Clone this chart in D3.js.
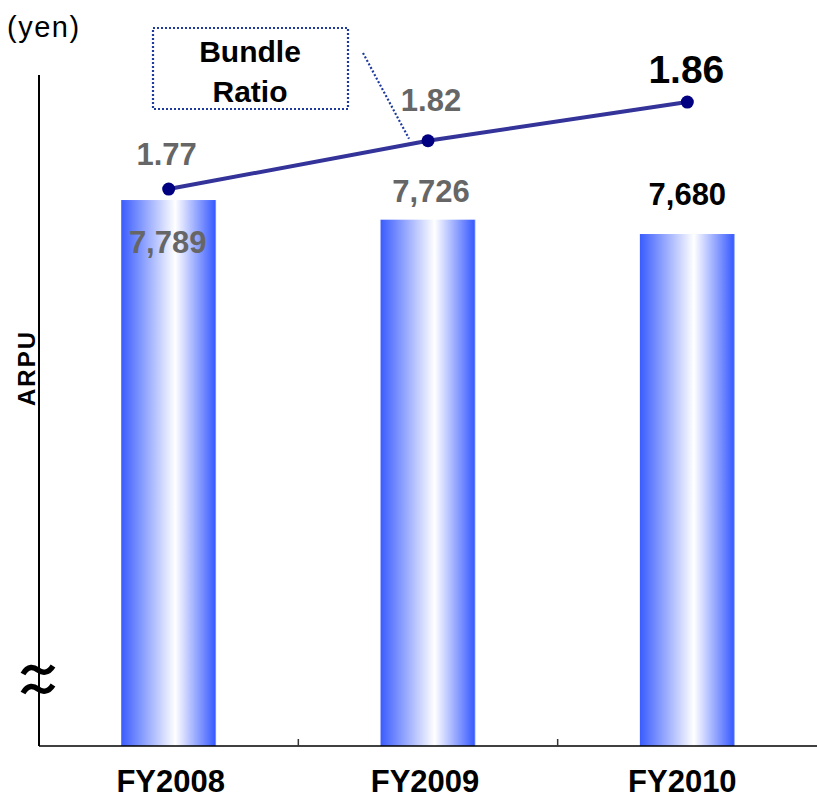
<!DOCTYPE html>
<html>
<head>
<meta charset="utf-8">
<script src="https://cdn.jsdelivr.net/npm/d3@7"></script>
<style>
  html, body { margin: 0; padding: 0; background: #fff; }
  svg { display: block; font-family: "Liberation Sans", Arial, sans-serif; }
</style>
</head>
<body>
<svg id="chart" width="817" height="799"></svg>
<script>
// Fiscal years, ARPU (yen) and bundle ratio
const categories = ["FY2008", "FY2009", "FY2010"];
const arpuValues = [7789, 7726, 7680];
const arpuLabels = ["7,789", "7,726", "7,680"];
const bundleRatio = [1.77, 1.82, 1.86];
const ratioLabels = ["1.77", "1.82", "1.86"];

const svg = d3.select("#chart");
const plotLeft = 39, plotRight = 817, plotBottom = 746, plotTop = 75;

// Category slots span the plot; bars sit in the middle of each slot
const x = d3.scaleBand().domain(categories).range([plotLeft, plotRight]).padding(0);
const barW = x.bandwidth() * 0.366;
const cx = d => x(d) + x.bandwidth() / 2;

// Truncated ARPU axis (broken near the bottom)
const y = d3.scaleLinear().domain([6038, 8190]).range([plotBottom, plotTop]);
// Independent scale for the bundle ratio line
const yR = d3.scaleLinear().domain([1.194, 1.888]).range([plotBottom, plotTop]);

// Bar gradient: blue edges fading to white just right of centre
const defs = svg.append("defs");
const grad = defs.append("linearGradient").attr("id", "barGrad")
  .attr("x1", "0%").attr("x2", "100%").attr("y1", "0%").attr("y2", "0%");
grad.append("stop").attr("offset", "0%").attr("stop-color", "#3a5cff");
grad.append("stop").attr("offset", "57%").attr("stop-color", "#ffffff");
grad.append("stop").attr("offset", "98.5%").attr("stop-color", "#3a5cff");
grad.append("stop").attr("offset", "100%").attr("stop-color", "#9db0ff");

// Bars
svg.append("g").selectAll("rect").data(categories).join("rect")
  .attr("x", d => cx(d) - barW / 2)
  .attr("width", barW)
  .attr("y", (d, i) => y(arpuValues[i]))
  .attr("height", (d, i) => plotBottom - y(arpuValues[i]))
  .attr("fill", "url(#barGrad)");

// Y axis line
svg.append("line").attr("x1", plotLeft).attr("x2", plotLeft).attr("y1", plotTop).attr("y2", plotBottom)
  .attr("stroke", "#000").attr("stroke-width", 2);

// X axis with ticks at slot boundaries
svg.append("line").attr("x1", plotLeft).attr("x2", plotRight).attr("y1", plotBottom).attr("y2", plotBottom)
  .attr("stroke", "#000").attr("stroke-width", 1.6);
svg.append("g").selectAll("line").data(categories.slice(1)).join("line")
  .attr("x1", d => x(d)).attr("x2", d => x(d))
  .attr("y1", plotBottom).attr("y2", plotBottom - 7)
  .attr("stroke", "#333").attr("stroke-width", 1.5);

// Axis break mark: two stacked bold waves across the axis
const wave = yy => `M23,${yy + 4} C28,${yy - 5} 34,${yy - 3} 38,${yy} S48,${yy + 4} 53,${yy - 4}`;
svg.append("g").selectAll("path").data([670, 689]).join("path")
  .attr("d", d => wave(d))
  .attr("fill", "none").attr("stroke", "#000").attr("stroke-width", 5.5);

// Category labels
const catDx = [2, -3, -5];
svg.append("g").selectAll("text").data(categories).join("text")
  .attr("x", (d, i) => cx(d) + catDx[i]).attr("y", 792)
  .attr("text-anchor", "middle").attr("font-weight", "bold").attr("font-size", 31)
  .attr("fill", "#000").text(d => d);

// ARPU value labels
const arpuPos = [
  { dx: -1, dy: 53, color: "#666" },
  { dx: 3, dy: -17.5, color: "#666" },
  { dx: 0, dy: -29, color: "#000" }
];
svg.append("g").selectAll("text").data(categories).join("text")
  .attr("x", (d, i) => cx(d) + arpuPos[i].dx)
  .attr("y", (d, i) => y(arpuValues[i]) + arpuPos[i].dy)
  .attr("text-anchor", "middle").attr("font-weight", "bold").attr("font-size", 31)
  .attr("fill", (d, i) => arpuPos[i].color)
  .text((d, i) => arpuLabels[i]);

// Bundle ratio line
const line = d3.line().x((d, i) => cx(categories[i])).y(d => yR(d));
svg.append("path").datum(bundleRatio).attr("d", line)
  .attr("fill", "none").attr("stroke", "#333399").attr("stroke-width", 4);
svg.append("g").selectAll("circle").data(bundleRatio).join("circle")
  .attr("cx", (d, i) => cx(categories[i])).attr("cy", d => yR(d)).attr("r", 6.5)
  .attr("fill", "#000080");

// Ratio labels
const ratioPos = [
  { dx: -2, dy: -24, color: "#666", size: 31 },
  { dx: 3, dy: -30, color: "#666", size: 31 },
  { dx: -1, dy: -19, color: "#000", size: 39 }
];
svg.append("g").selectAll("text").data(bundleRatio).join("text")
  .attr("x", (d, i) => cx(categories[i]) + ratioPos[i].dx)
  .attr("y", (d, i) => yR(d) + ratioPos[i].dy)
  .attr("text-anchor", "middle").attr("font-weight", "bold")
  .attr("font-size", (d, i) => ratioPos[i].size)
  .attr("fill", (d, i) => ratioPos[i].color)
  .text((d, i) => ratioLabels[i]);

// Callout box for the ratio series
svg.append("rect").attr("x", 153).attr("y", 28).attr("width", 195).attr("height", 81)
  .attr("fill", "none").attr("stroke", "#1f3a9e").attr("stroke-width", 2.2)
  .attr("stroke-dasharray", "2,2");
svg.append("text").attr("x", 250).attr("y", 62).attr("text-anchor", "middle")
  .attr("font-weight", "bold").attr("font-size", 30).text("Bundle");
svg.append("text").attr("x", 250).attr("y", 102).attr("text-anchor", "middle")
  .attr("font-weight", "bold").attr("font-size", 30).text("Ratio");
svg.append("line").attr("x1", 363).attr("y1", 53)
  .attr("x2", cx(categories[1]) - 19).attr("y2", yR(bundleRatio[1]) - 2)
  .attr("stroke", "#1f3a9e").attr("stroke-width", 2.2).attr("stroke-dasharray", "2,2");

// Unit label and axis title
svg.append("text").attr("x", 7).attr("y", 37)
  .attr("font-size", 29).attr("letter-spacing", 1.5).attr("fill", "#000").text("(yen)");
svg.append("text").attr("transform", "translate(35,368) rotate(-90)")
  .attr("text-anchor", "middle").attr("font-weight", "bold").attr("font-size", 24)
  .attr("letter-spacing", 2).text("ARPU");
</script>
</body>
</html>
